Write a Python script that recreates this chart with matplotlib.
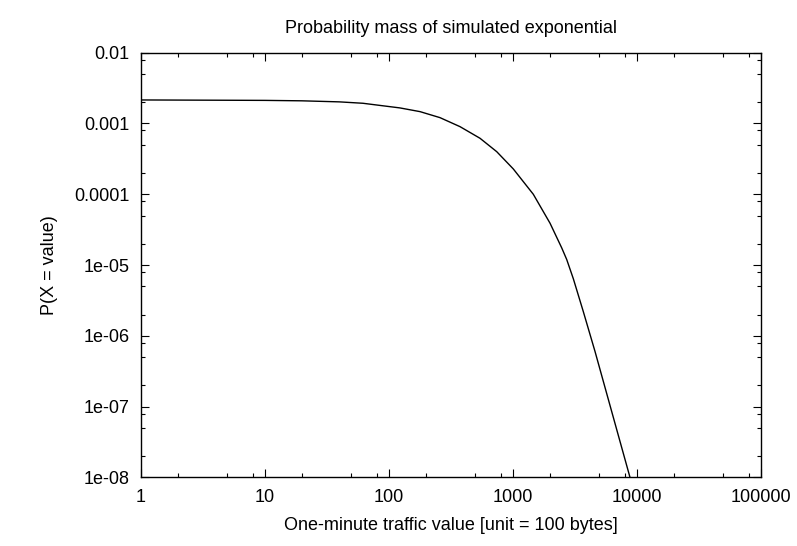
import matplotlib
matplotlib.use("Agg")
import matplotlib.pyplot as plt
from matplotlib.ticker import FixedLocator, NullFormatter

plt.rcParams["font.family"] = ["Liberation Sans", "DejaVu Sans"]

# values
traffic = [1, 10, 20, 40, 62, 85, 123, 179, 259, 376, 545, 743, 1011, 1466,
           2000, 2484, 2725, 3083, 3710, 4613, 4900, 8830]
prob = [0.00215, 0.00212, 0.00209, 0.00202, 0.00193, 0.00180, 0.00166,
        0.00147, 0.00121, 0.000902, 0.000618, 0.000400, 0.000228, 0.000100,
        3.9e-5, 1.75e-5, 1.2e-5, 6.4e-6, 2.2e-6, 6.0e-7, 4.1e-7, 1e-8]

xticks = [1, 10, 100, 1000, 10000, 100000]
xlabels = ["1", "10", "100", "1000", "10000", "100000"]
yticks = [1e-8, 1e-7, 1e-6, 1e-5, 1e-4, 1e-3, 1e-2]
ylabels = ["1e-08", "1e-07", "1e-06", "1e-05", "0.0001", "0.001", "0.01"]

fig = plt.figure(figsize=(7.97, 5.46), dpi=100)
ax = fig.add_axes([0.1765, 0.1255, 0.778, 0.778])

ax.plot(traffic, prob, color="black", linewidth=1.0)

ax.set_xscale("log")
ax.set_yscale("log")
ax.set_xlim(1, 100000)
ax.set_ylim(1e-8, 0.01)

ax.xaxis.set_major_locator(FixedLocator(xticks))
ax.set_xticklabels(xlabels)
ax.yaxis.set_major_locator(FixedLocator(yticks))
ax.set_yticklabels(ylabels)

# gnuplot style minor tics at 2, 5, 8 of each decade
xminor = [m * 10.0 ** d for d in range(0, 5) for m in (2, 5, 8)]
yminor = [m * 10.0 ** d for d in range(-8, -2) for m in (2, 5, 8)]
ax.xaxis.set_minor_locator(FixedLocator(xminor))
ax.yaxis.set_minor_locator(FixedLocator(yminor))
ax.xaxis.set_minor_formatter(NullFormatter())
ax.yaxis.set_minor_formatter(NullFormatter())

ax.tick_params(which="both", direction="in", top=True, right=True,
               labelsize=13, width=0.8, pad=8)
ax.tick_params(which="major", length=6)
ax.tick_params(which="minor", length=3)
for s in ax.spines.values():
    s.set_linewidth(1.0)

ax.set_xlabel("One-minute traffic value [unit = 100 bytes]", fontsize=13,
              labelpad=8)
ax.set_ylabel("P(X = value)", fontsize=13, labelpad=12)
ax.set_title("Probability mass of simulated exponential", fontsize=13, pad=14)

fig.savefig("out.png", dpi=100)
